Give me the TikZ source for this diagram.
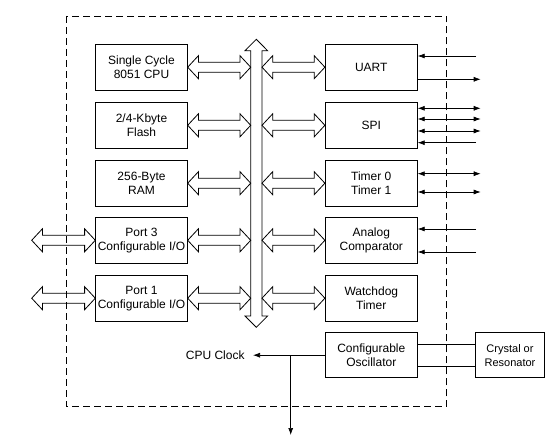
\documentclass[tikz,border=0pt]{standalone}
\usepackage{fontspec}
\setmainfont{Liberation Sans}
\usetikzlibrary{arrows.meta,calc}
\begin{document}
\begin{tikzpicture}[x=1pt,y=-1pt,line width=0.8pt,
  box/.style={draw,inner sep=0pt,align=center,font=\fontsize{12}{14}\selectfont},
  lbox/.style={box,minimum width=91.6pt,minimum height=46pt},
  rbox/.style={box,minimum width=92pt,minimum height=46pt},
  thin/.style={line width=0.7pt},
  tip/.style={-{Latex[length=7pt,width=5pt]}},
  dtip/.style={{Latex[length=7pt,width=5pt]}-{Latex[length=7pt,width=5pt]}},
  fat/.style={to path={let \p1=(\tikztostart), \p2=(\tikztotarget) in
    (\x1,\y1) -- (\x1+10.7pt,\y1+11.5pt) -- (\x1+10.7pt,\y1+5pt) -- (\x2-10.7pt,\y1+5pt)
    -- (\x2-10.7pt,\y1+11.5pt) -- (\x2,\y2) -- (\x2-10.7pt,\y1-11.5pt) -- (\x2-10.7pt,\y1-5pt)
    -- (\x1+10.7pt,\y1-5pt) -- (\x1+10.7pt,\y1-11.5pt) -- cycle}},
  fatv/.style={to path={let \p1=(\tikztostart), \p2=(\tikztotarget) in
    (\x1,\y1) -- (\x1+11.3pt,\y1-11.4pt) -- (\x1+5.65pt,\y1-11.4pt) -- (\x1+5.65pt,\y2+11.3pt)
    -- (\x1+11.3pt,\y2+11.3pt) -- (\x2,\y2) -- (\x1-11.3pt,\y2+11.3pt) -- (\x1-5.65pt,\y2+11.3pt)
    -- (\x1-5.65pt,\y1-11.4pt) -- (\x1-11.3pt,\y1-11.4pt) -- cycle}}]
\useasboundingbox (0,0) rectangle (556,443);
% dashed outline
\draw[dash pattern=on 7pt off 4pt] (66.7,16) rectangle (446.7,406.7);
% left boxes
\node[lbox] (cpu)   at (141.5,67.2)  {Single Cycle\\8051 CPU};
\node[lbox] (flash) at (141.5,125.3) {2/4-Kbyte\\Flash};
\node[lbox] (ram)   at (141.5,183.2) {256-Byte\\RAM};
\node[lbox] (p3)    at (141.5,240.3) {Port 3\\Configurable I/O};
\node[lbox] (p1)    at (141.5,298.2) {Port 1\\Configurable I/O};
% right boxes
\node[rbox] (uart)  at (371.3,67.2)  {UART};
\node[rbox] (spi)   at (371.3,125.3) {SPI};
\node[rbox] (tmr)   at (371.3,183.2) {Timer 0\\Timer 1};
\node[rbox] (cmp)   at (371.3,240.3) {Analog\\Comparator};
\node[rbox] (wdt)   at (371.3,298.2) {Watchdog\\Timer};
\node[rbox,minimum height=45pt] (osc) at (371.3,355.2) {Configurable\\Oscillator};
\node[box,minimum width=68.6pt,minimum height=45pt,font=\fontsize{11}{14}\selectfont] (xtal) at (510,355.2) {Crystal or\\Resonator};
% bus
\coordinate (busT) at (256.3,39.3);
\coordinate (busB) at (256.3,327.3);
\draw (busT) to[fatv] (busB);
\foreach \nm/\yy in {cpu/67.2,flash/125.3,ram/183.2,p3/240.3,p1/298.2}{
  \coordinate (bl\nm) at (250.7,\yy);
  \draw (\nm.east) to[fat] (bl\nm);
}
\foreach \nm/\yy in {uart/67.2,spi/125.3,tmr/183.2,cmp/240.3,wdt/298.2}{
  \coordinate (br\nm) at (262,\yy);
  \draw (br\nm) to[fat] (\nm.west);
}
% port external
\coordinate (ext3) at (31.7,240.3);
\coordinate (ext1) at (31.7,298.2);
\draw (ext3) to[fat] (p3.west);
\draw (ext1) to[fat] (p1.west);
% thin signals
\coordinate (u1) at (476,56);   \draw[thin,tip] (u1) -- (uart.east |- u1);
\coordinate (u2) at (480.7,79.3); \draw[thin,tip] (uart.east |- u2) -- (u2);
\coordinate (s1) at (480.7,108.3); \draw[thin,dtip] (spi.east |- s1) -- (s1);
\coordinate (s2) at (480.7,119);   \draw[thin,dtip] (spi.east |- s2) -- (s2);
\coordinate (s3) at (480.7,131);   \draw[thin,dtip] (spi.east |- s3) -- (s3);
\coordinate (s4) at (476,142.7);   \draw[thin,tip] (s4) -- (spi.east |- s4);
\coordinate (t1) at (480.7,173.7); \draw[thin,dtip] (tmr.east |- t1) -- (t1);
\coordinate (t2) at (480.7,192);   \draw[thin,dtip] (tmr.east |- t2) -- (t2);
\coordinate (c1) at (476,229);     \draw[thin,tip] (c1) -- (cmp.east |- c1);
\coordinate (c2) at (476,252);     \draw[thin,tip] (c2) -- (cmp.east |- c2);
% oscillator to crystal
\coordinate (o1) at (0,344.7);
\coordinate (o2) at (0,366.7);
\draw[thin] (osc.east |- o1) -- (xtal.west |- o1);
\draw[thin] (osc.east |- o2) -- (xtal.west |- o2);
% CPU clock
\node[anchor=east,inner sep=0pt,font=\fontsize{12}{14}\selectfont] (clk) at (245,355.2) {CPU Clock};
\coordinate (clkTip) at (253,355.2);
\coordinate (jn) at (290.7,355.2);
\coordinate (down) at (290.7,435);
\draw[thin,tip] (osc.west) -- (clkTip);
\draw[thin,tip] (jn) -- (down);
\end{tikzpicture}
\end{document}
